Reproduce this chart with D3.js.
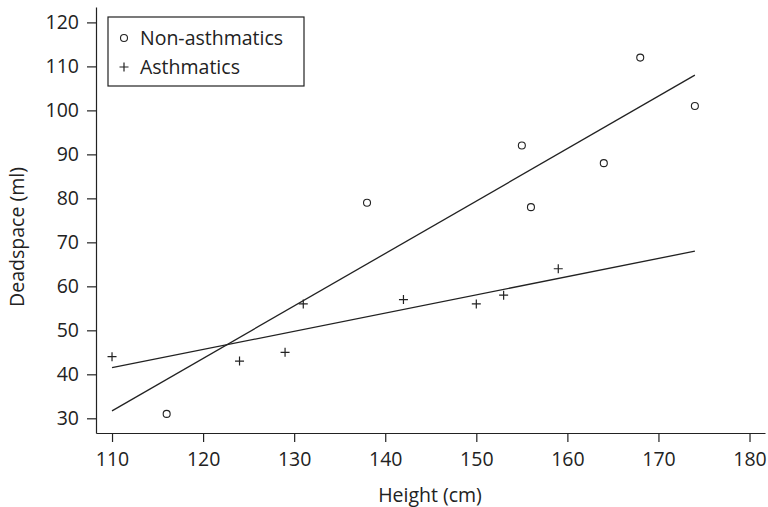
<!DOCTYPE html>
<html lang="en">
<head>
  <meta charset="UTF-8">
  <title>Deadspace vs Height</title>
  <script src="https://cdnjs.cloudflare.com/ajax/libs/d3/7.8.5/d3.min.js"></script>
  <style>
    body { margin: 0; background: #fff; }
    svg text { font-family: "Open Sans", sans-serif; fill: #222; }
    .axis path, .axis line { stroke: #222; stroke-width: 1.2px; }
    .axis text { font-size: 19.5px; }
  </style>
</head>
<body>
  <svg width="768" height="507"></svg>
  <script>
    // non-asthmatics (circles)
    var nonHeight = [116, 138, 155, 156, 164, 168, 174]
    var nonDead   = [31, 79, 92, 78, 88, 112, 101]

    // asthmatics (plus)
    var asHeight = [110, 124, 129, 131, 142, 150, 153, 159]
    var asDead   = [44, 43, 45, 56, 57, 56, 58, 64]

    // fitted lines, end points
    var fitX   = [110, 174]
    var nonFit = [31.7, 108]
    var asFit  = [41.5, 68]

    var xTicks = [110, 120, 130, 140, 150, 160, 170, 180]
    var yTicks = [30, 40, 50, 60, 70, 80, 90, 100, 110, 120]

    var svg = d3.select("svg")

    var x = d3.scaleLinear().domain([108.24, 181.7]).range([96, 765])
    var y = d3.scaleLinear().domain([26.66, 123.5]).range([433, 7])

    svg.append("g")
       .attr("class", "axis")
       .attr("transform", "translate(0,433)")
       .call(d3.axisBottom(x).tickValues(xTicks).tickSize(9).tickPadding(10).tickSizeOuter(0))

    svg.append("g")
       .attr("class", "axis")
       .attr("transform", "translate(96,0)")
       .call(d3.axisLeft(y).tickValues(yTicks).tickSize(9).tickPadding(8).tickSizeOuter(0))

    svg.selectAll(".axis .domain").attr("fill", "none")

    // regression lines
    var line = d3.line().x(d => x(d[0])).y(d => y(d[1]))
    ;[nonFit, asFit].forEach(f => {
      svg.append("path")
         .attr("d", line(fitX.map((v, i) => [v, f[i]])))
         .attr("fill", "none")
         .attr("stroke", "#222")
         .attr("stroke-width", 1.3)
    })

    svg.selectAll("circle.pt")
       .data(nonHeight.map((h, i) => [h, nonDead[i]]))
       .join("circle")
       .attr("class", "pt")
       .attr("cx", d => x(d[0]))
       .attr("cy", d => y(d[1]))
       .attr("r", 3.5)
       .attr("fill", "none")
       .attr("stroke", "#222")
       .attr("stroke-width", 1.1)

    svg.selectAll("path.plus")
       .data(asHeight.map((h, i) => [h, asDead[i]]))
       .join("path")
       .attr("class", "plus")
       .attr("transform", d => "translate(" + x(d[0]) + "," + y(d[1]) + ")")
       .attr("d", "M-4.5,0H4.5M0,-4.5V4.5")
       .attr("stroke", "#222")
       .attr("stroke-width", 1.2)

    // legend
    var lg = svg.append("g").attr("transform", "translate(108,17)")
    lg.append("rect").attr("width", 196).attr("height", 69)
      .attr("fill", "#fff").attr("stroke", "#222").attr("stroke-width", 1.2)
    lg.append("circle").attr("cx", 16).attr("cy", 21).attr("r", 3.5)
      .attr("fill", "none").attr("stroke", "#222").attr("stroke-width", 1.1)
    lg.append("path").attr("transform", "translate(16,50)")
      .attr("d", "M-4.5,0H4.5M0,-4.5V4.5").attr("stroke", "#222").attr("stroke-width", 1.2)
    lg.append("text").attr("x", 32).attr("y", 28).attr("font-size", 19.5).text("Non-asthmatics")
    lg.append("text").attr("x", 32).attr("y", 57).attr("font-size", 19.5).text("Asthmatics")

    // axis titles
    svg.append("text")
       .attr("x", 430).attr("y", 502)
       .attr("text-anchor", "middle")
       .attr("font-size", 19.5)
       .text("Height (cm)")

    svg.append("text")
       .attr("transform", "translate(24,237) rotate(-90)")
       .attr("text-anchor", "middle")
       .attr("font-size", 19.5)
       .text("Deadspace (ml)")
  </script>
</body>
</html>
